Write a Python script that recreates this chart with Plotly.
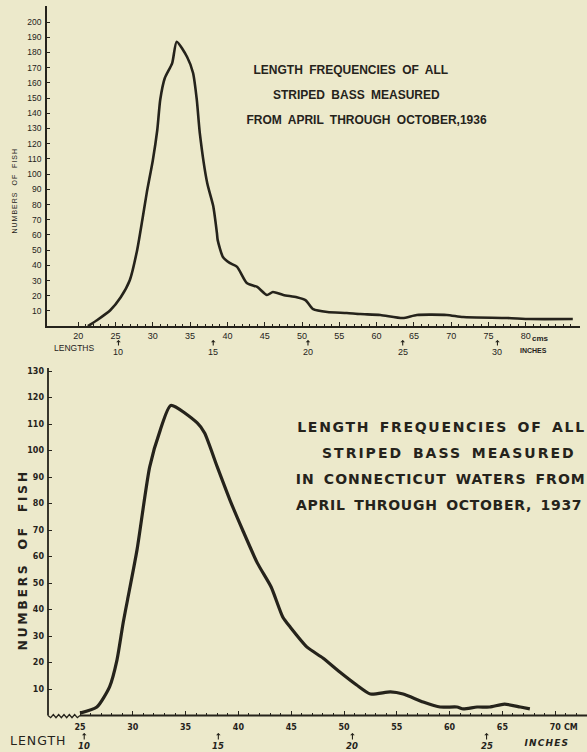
import json
import plotly.graph_objects as go

# ---------------- data ----------------
top_length_cm = [21.3, 22.5, 24.3, 25.7, 26.9, 27.9, 28.6, 29.2,
                 30.0, 30.6, 31.0, 31.6, 32.6, 33.2, 34.6, 35.4, 35.9, 36.3,
                 37.3, 38.1, 38.6, 38.7, 39.4, 40.3, 41.3, 42.6, 44.0, 45.3,
                 46.1, 47.5, 49.3, 50.5, 51.5, 53.4, 56.0, 57.8, 60.5, 63.5,
                 65.4, 69.4, 71.6, 77.5, 80.6, 86.3]
top_fish = [0, 3.9, 10.5, 19, 30, 50, 70, 88,
            109, 129, 149, 163, 173, 187, 177, 166.5, 148.8, 127,
            94, 79, 61, 56.6, 45.5, 41.6, 39, 28.4, 25.8, 20.5,
            22.5, 20.5, 19, 17, 11.2, 9.3, 8.7, 8, 7.4, 5.4,
            7.4, 7.4, 6, 5.4, 4.7, 4.7]

bot_length_cm = [25.0, 26.6, 27.8, 28.5, 29.1, 29.5, 30.4, 31.6, 32.6, 33.6,
                 36.1, 36.8, 38.0, 39.2, 40.4, 41.8, 43.1, 44.2, 44.9, 46.5,
                 48.0, 49.6, 51.2, 52.5, 54.4, 55.6, 57.5, 59.1, 60.7, 61.3,
                 62.6, 63.8, 65.2, 66.7, 67.6]
bot_fish = [0.9, 3.2, 10.8, 20.9, 35.3, 43.6, 62.5, 93.8, 107.7, 117,
            110.4, 106.6, 93.8, 81.3, 70, 57.5, 48.5, 37.2, 33.4, 25.8,
            21.7, 16.4, 11.5, 8.1, 8.9, 8.1, 5.1, 3.2, 3.2, 2.5,
            3.2, 3.2, 4.3, 3.2, 2.5]

top_y_ticks = list(range(10, 201, 10))
top_x_ticks = [20, 25, 30, 35, 40, 45, 50, 55, 60, 65, 70, 75, 80]
top_x_ticklabels = [str(v) for v in top_x_ticks]
top_inch_marks = [10, 15, 20, 25, 30]

bot_y_ticks = list(range(10, 131, 10))
bot_x_ticks = [25, 30, 35, 40, 45, 50, 55, 60, 65, 70]
bot_x_ticklabels = [str(v) for v in bot_x_ticks]
bot_inch_marks = [10, 15, 20, 25]
CM_PER_INCH = 2.54

top_title_lines = ["LENGTH FREQUENCIES OF ALL",
                   "STRIPED BASS MEASURED",
                   "FROM APRIL THROUGH OCTOBER,1936"]
bot_title_lines = ["LENGTH FREQUENCIES OF ALL",
                   "STRIPED BASS MEASURED",
                   "IN CONNECTICUT WATERS FROM",
                   "APRIL THROUGH OCTOBER, 1937"]

# ---------------- geometry / style ----------------
W, H = 587, 752
INK = "#25231b"
BG = "#ECE9CB"
NARROW = "Liberation Sans, Arial, sans-serif"
WIDE = "DejaVu Sans, Verdana, sans-serif"


def fx(px):
    return px / W


def fy(py):
    return 1 - py / H


# top panel: 50 cm at px 302, 7.46 px per cm; 0 fish at py 326.2, 1.521 px per fish
T_LEFT, T_RIGHT, T_BASE, T_TOP = 47, 580, 326.2, 6
T_MID_CM, T_MID_PX, T_PPC = 50, 302, 7.46
T_PPF = 1.521
top_xrange = [T_MID_CM + (T_LEFT - T_MID_PX) / T_PPC, T_MID_CM + (T_RIGHT - T_MID_PX) / T_PPC]
top_yrange = [0, (T_BASE - T_TOP) / T_PPF]

# bottom panel: 25 cm at px 80, 10.56 px per cm; 0 fish at py 715.5, 2.65 px per fish
B_LEFT, B_RIGHT, B_BASE, B_TOP = 48, 587, 715.5, 368
B_CM0, B_CM0_PX, B_PPC = 25, 80, 10.56
B_PPF = 2.65
B_BELOW = 1.5
bot_xrange = [B_CM0 + (B_LEFT - B_CM0_PX) / B_PPC, B_CM0 + (B_RIGHT - B_CM0_PX) / B_PPC]
bot_yrange = [-B_BELOW, (B_BASE - B_TOP) / B_PPF]

fig = go.Figure()
fig.add_trace(go.Scatter(x=top_length_cm, y=top_fish, mode="lines", xaxis="x", yaxis="y",
                         line=dict(color=INK, width=2.6, shape="spline", smoothing=0.6),
                         hoverinfo="skip", showlegend=False))
fig.add_trace(go.Scatter(x=bot_length_cm, y=bot_fish, mode="lines", xaxis="x2", yaxis="y2",
                         line=dict(color=INK, width=3.2, shape="spline", smoothing=0.6),
                         hoverinfo="skip", showlegend=False))

common = dict(showgrid=False, zeroline=False, fixedrange=True, tickcolor=INK)

fig.update_layout(
    width=W, height=H, margin=dict(l=0, r=0, t=0, b=0),
    paper_bgcolor=BG, plot_bgcolor=BG, showlegend=False,
    xaxis=dict(domain=[fx(T_LEFT), fx(T_RIGHT)], range=top_xrange, anchor="y",
               showline=True, linecolor=INK, linewidth=1.8,
               ticks="inside", ticklen=4, tickwidth=1.2,
               tickvals=top_x_ticks, ticktext=top_x_ticklabels,
               tickfont=dict(family=NARROW, size=9, color=INK),
               minor=dict(tickvals=list(range(21, 87)), ticks="inside", ticklen=2,
                          tickwidth=1, tickcolor=INK),
               **common),
    yaxis=dict(domain=[fy(T_BASE), fy(T_TOP)], range=top_yrange, anchor="x",
               showline=True, linecolor=INK, linewidth=1.8,
               ticks="inside", ticklen=3, tickwidth=1.1, ticklabelstandoff=2,
               tickvals=top_y_ticks, ticktext=[str(v) for v in top_y_ticks],
               tickfont=dict(family=NARROW, size=8.5, color=INK),
               **common),
    xaxis2=dict(domain=[fx(B_LEFT), fx(B_RIGHT)], range=bot_xrange,
                anchor="free", position=fy(B_BASE),
                showline=False,
                ticks="inside", ticklen=5, tickwidth=1.4, ticklabelstandoff=5,
                tickvals=bot_x_ticks, ticktext=bot_x_ticklabels,
                tickfont=dict(family=WIDE, size=8, color=INK, weight="bold"),
                minor=dict(tickvals=list(range(26, 73)), ticks="inside", ticklen=3,
                           tickwidth=1.1, tickcolor=INK),
                **common),
    yaxis2=dict(domain=[fy(B_BASE + B_BELOW * B_PPF), fy(B_TOP)], range=bot_yrange, anchor="x2",
                showline=False,
                ticks="inside", ticklen=4, tickwidth=1.2, ticklabelstandoff=3,
                tickvals=bot_y_ticks, ticktext=[str(v) for v in bot_y_ticks],
                tickfont=dict(family=WIDE, size=8, color=INK, weight="bold"),
                **common),
)

# bottom axis lines (paper coordinates), with the zig-zag break
shapes = []
shapes.append(dict(type="line", xref="paper", yref="paper",
                   x0=fx(B_LEFT), x1=fx(B_LEFT), y0=fy(B_BASE), y1=fy(B_TOP),
                   line=dict(color=INK, width=1.8)))
shapes.append(dict(type="line", xref="paper", yref="paper",
                   x0=fx(B_CM0_PX), x1=1, y0=fy(B_BASE), y1=fy(B_BASE),
                   line=dict(color=INK, width=1.8)))
zig = "M {:.5f},{:.5f}".format(fx(B_LEFT), fy(B_BASE))
n_teeth = 6
for i in range(1, 2 * n_teeth + 1):
    px = B_LEFT + (B_CM0_PX - B_LEFT) * i / (2 * n_teeth)
    py = B_BASE + (2.2 if i % 2 == 1 else -1.0)
    if i == 2 * n_teeth:
        py = B_BASE
    zig += " L {:.5f},{:.5f}".format(fx(px), fy(py))
shapes.append(dict(type="path", xref="paper", yref="paper", path=zig,
                   line=dict(color=INK, width=1.3)))
fig.update_layout(shapes=shapes)

ann = []
spacing = {}


def add_text(text, x, y, font, xref="paper", yref="paper", ls=None, ws=None, **kw):
    if ls is not None or ws is not None:
        spacing[str(len(ann))] = [ls or 0, ws or 0]
    ann.append(dict(text=text, x=x, y=y, xref=xref, yref=yref, showarrow=False,
                    font=font, xanchor="center", yanchor="middle", **kw))


def add_arrow(x, xref, y_head, y_tail):
    ann.append(dict(text="", x=x, y=fy(y_head), xref=xref, yref="paper",
                    showarrow=True, ax=0, ay=y_tail - y_head, arrowhead=1,
                    arrowsize=0.7, arrowwidth=1.1, arrowcolor=INK, standoff=0,
                    startstandoff=0))


# --- top panel texts ---
f_top_title = dict(family=NARROW, size=12, color=INK, weight="bold")
for line, yy, xx in zip(top_title_lines, [70, 95.5, 120.5], [351, 356, 366]):
    add_text(line, fx(xx), fy(yy), f_top_title, ls=0, ws=3)
add_text("NUMBERS OF FISH", fx(15), fy(191), dict(family=NARROW, size=7, color=INK),
         textangle=-90, ls=1.0, ws=3)
add_text("LENGTHS", fx(74), fy(348), dict(family=NARROW, size=8.5, color=INK))
add_text("cms", 80, fy(338), dict(family=NARROW, size=8, color=INK, weight="bold"),
         xref="x", xshift=15)
for inch in top_inch_marks:
    cm = inch * CM_PER_INCH
    add_arrow(cm, "x", 340, 347)
    add_text(str(inch), cm, fy(352), dict(family=NARROW, size=9, color=INK), xref="x")
add_text("INCHES", fx(533), fy(350), dict(family=NARROW, size=7, color=INK, weight="bold"))

# --- bottom panel texts ---
f_bot_title = dict(family=WIDE, size=14, color=INK, weight="bold")
for line, yy, xx, ls in zip(bot_title_lines, [427, 453, 479, 505],
                            [441, 449, 440.5, 438.5], [1.7, 2.0, 1.05, 0.7]):
    add_text(line, fx(xx), fy(yy), f_bot_title, ls=ls, ws=3)
add_text("NUMBERS OF FISH", fx(22), fy(560), dict(family=WIDE, size=12.5, color=INK, weight="bold"),
         textangle=-90, ls=2.6, ws=6)
add_text("LENGTH", fx(38), fy(740), dict(family=WIDE, size=12.5, color=INK), ls=1)
add_text("CM", 70, fy(727), dict(family=WIDE, size=8, color=INK, weight="bold"),
         xref="x2", xshift=16)
for inch in bot_inch_marks:
    cm = inch * CM_PER_INCH
    add_arrow(cm, "x2", 733, 741)
    add_text(str(inch), cm, fy(745.5), dict(family=WIDE, size=8.5, color=INK, weight="bold",
                                            style="italic"), xref="x2")
add_text("INCHES", fx(547), fy(743), dict(family=WIDE, size=9, color=INK, weight="bold",
                                          style="italic"), ls=1.2)

fig.update_layout(annotations=ann)

post = """
document.body.style.margin = '0';
document.body.style.padding = '0';
document.body.style.background = '%s';
var gd = document.getElementById('{plot_id}');
var sp = %s;
gd.querySelectorAll('g.annotation').forEach(function(g){
  var i = g.getAttribute('data-index');
  if (sp[i] !== undefined) {
    g.querySelectorAll('text').forEach(function(t){
      t.style.letterSpacing = sp[i][0] + 'px';
      t.style.wordSpacing = sp[i][1] + 'px';
    });
  }
});
""" % (BG, json.dumps(spacing))

fig.write_html("out.html", post_script=post, config={"displayModeBar": False})
